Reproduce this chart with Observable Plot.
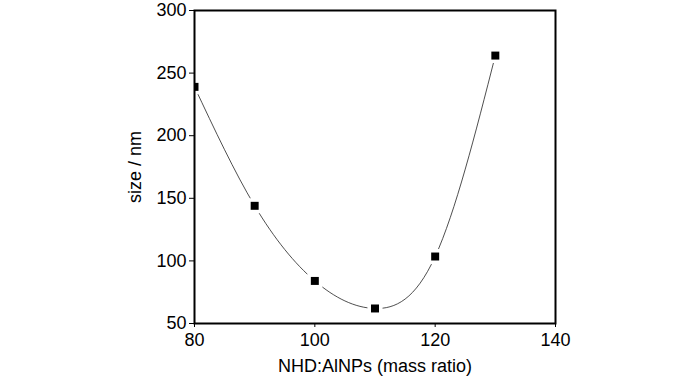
<!DOCTYPE html>
<html><head><meta charset="utf-8">
<script src="https://cdn.jsdelivr.net/npm/d3@7"></script>
<script src="https://cdn.jsdelivr.net/npm/@observablehq/plot@0.6"></script>
<style>body{margin:0;background:#fff;} svg{font-family:"Liberation Sans",Arial,sans-serif;}</style>
</head><body><div id="chart"></div>
<script>
const ratio = [80, 90, 100, 110, 120, 130];
const size = [239, 144, 84, 62, 103.5, 264];
const xTicks = [80, 100, 120, 140];
const yTicks = [50, 100, 150, 200, 250, 300];
const data = ratio.map((r, i) => ({ratio: r, size: size[i]}));

const chart = Plot.plot({
  width: 700, height: 382,
  marginLeft: 194, marginRight: 145, marginTop: 10, marginBottom: 59,
  style: {fontSize: "18px", fontFamily: "Liberation Sans, Arial, sans-serif", color: "#000", background: "#fff"},
  x: {domain: [80, 140], ticks: xTicks, tickSize: 4, tickPadding: 6, label: "NHD:AlNPs (mass ratio)", labelArrow: "none", labelAnchor: "center", labelOffset: 48},
  y: {domain: [50, 300], ticks: yTicks, tickSize: 5, tickPadding: 3, label: "size / nm", labelArrow: "none", labelAnchor: "center", labelOffset: 66},
  marks: [
    Plot.line(data, {x: "ratio", y: "size", curve: "natural", stroke: "#222", strokeWidth: 0.8, clip: true}),
    Plot.dot(data, {x: "ratio", y: "size", symbol: "square", r: 4.5, fill: "#000", stroke: "#fff", strokeWidth: 7, paintOrder: "stroke", clip: true}),
    Plot.frame({stroke: "#000", strokeWidth: 2})
  ]
});
document.getElementById("chart").appendChild(chart);
</script></body></html>
